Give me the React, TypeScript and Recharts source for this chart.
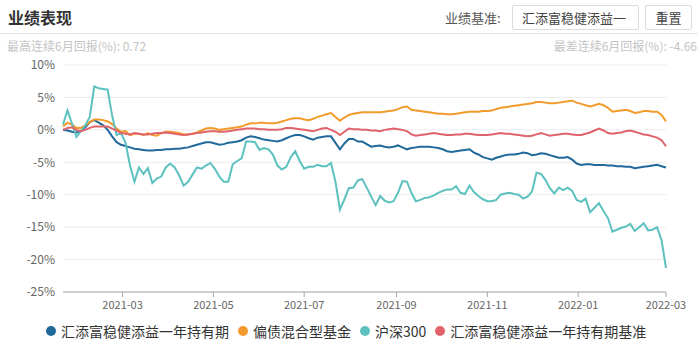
import React from "react";
import { LineChart, Line, XAxis, YAxis, CartesianGrid } from "recharts";

const dates = [
  "2021-01-20","2021-01-23","2021-01-26","2021-01-29","2021-02-01","2021-02-04","2021-02-07","2021-02-10","2021-02-13","2021-02-16",
  "2021-02-19","2021-02-22","2021-02-25","2021-02-28","2021-03-03","2021-03-06","2021-03-09","2021-03-12","2021-03-15","2021-03-18",
  "2021-03-21","2021-03-24","2021-03-27","2021-03-30","2021-04-02","2021-04-05","2021-04-08","2021-04-11","2021-04-14","2021-04-17",
  "2021-04-20","2021-04-23","2021-04-26","2021-04-29","2021-05-02","2021-05-05","2021-05-08","2021-05-11","2021-05-14","2021-05-17",
  "2021-05-20","2021-05-23","2021-05-26","2021-05-29","2021-06-01","2021-06-04","2021-06-07","2021-06-10","2021-06-13","2021-06-16",
  "2021-06-19","2021-06-22","2021-06-25","2021-06-28","2021-07-01","2021-07-04","2021-07-07","2021-07-10","2021-07-13","2021-07-16",
  "2021-07-19","2021-07-22","2021-07-25","2021-07-28","2021-07-31","2021-08-03","2021-08-06","2021-08-09","2021-08-12","2021-08-15",
  "2021-08-18","2021-08-21","2021-08-24","2021-08-27","2021-08-30","2021-09-02","2021-09-05","2021-09-08","2021-09-11","2021-09-14",
  "2021-09-17","2021-09-20","2021-09-23","2021-09-26","2021-09-29","2021-10-02","2021-10-05","2021-10-08","2021-10-11","2021-10-14",
  "2021-10-17","2021-10-20","2021-10-23","2021-10-26","2021-10-29","2021-11-01","2021-11-04","2021-11-07","2021-11-10","2021-11-13",
  "2021-11-16","2021-11-19","2021-11-22","2021-11-25","2021-11-28","2021-12-01","2021-12-04","2021-12-07","2021-12-10","2021-12-13",
  "2021-12-16","2021-12-19","2021-12-22","2021-12-25","2021-12-28","2021-12-31","2022-01-03","2022-01-06","2022-01-09","2022-01-12",
  "2022-01-15","2022-01-18","2022-01-21","2022-01-24","2022-01-27","2022-01-30","2022-02-02","2022-02-05","2022-02-08","2022-02-11",
  "2022-02-14","2022-02-17","2022-02-20","2022-02-23","2022-02-26","2022-03-01",
];

// 汇添富稳健添益一年持有期
const fundReturn = [
  0.0,-0.1,-0.3,-0.4,-0.2,0.4,1.2,1.5,1.1,0.7,
  0.0,-1.0,-1.9,-2.3,-2.5,-2.7,-2.9,-3.0,-3.1,-3.2,
  -3.2,-3.1,-3.1,-3.0,-3.0,-2.9,-2.9,-2.8,-2.7,-2.5,
  -2.3,-2.1,-1.9,-1.9,-2.1,-2.3,-2.2,-2.0,-1.9,-1.8,
  -1.6,-1.2,-1.0,-1.1,-1.3,-1.5,-1.6,-1.7,-1.8,-1.6,
  -1.3,-1.0,-0.8,-0.8,-1.0,-1.3,-1.5,-1.2,-1.1,-1.0,
  -1.0,-2.0,-3.0,-2.1,-1.4,-1.4,-1.8,-1.8,-2.2,-2.6,
  -2.5,-2.4,-2.6,-2.7,-2.6,-2.4,-2.7,-3.0,-2.8,-2.7,
  -2.6,-2.6,-2.6,-2.7,-2.8,-3.0,-3.3,-3.4,-3.3,-3.2,
  -3.1,-3.0,-3.5,-3.8,-4.2,-4.4,-4.6,-4.3,-4.1,-3.9,
  -3.8,-3.8,-3.7,-3.5,-3.6,-3.9,-3.8,-3.6,-3.7,-3.9,
  -4.1,-4.3,-4.3,-4.2,-4.6,-5.2,-5.4,-5.3,-5.3,-5.4,
  -5.4,-5.4,-5.5,-5.5,-5.6,-5.6,-5.7,-5.7,-5.9,-5.8,
  -5.7,-5.6,-5.5,-5.4,-5.6,-5.8,
];

// 偏债混合型基金
const peerReturn = [
  0.5,1.1,0.8,0.3,0.3,0.7,1.2,1.6,1.6,1.5,
  1.3,0.9,0.2,-0.3,-0.2,-0.8,-0.6,-0.6,-0.8,-0.5,
  -0.8,-0.9,-0.5,-0.3,-0.3,-0.4,-0.5,-0.7,-0.7,-0.6,
  -0.4,-0.1,0.2,0.3,0.2,0.0,0.1,0.2,0.3,0.4,
  0.5,0.8,1.0,1.0,1.1,1.1,1.0,1.0,1.1,1.3,
  1.5,1.7,1.8,1.8,1.6,1.5,1.7,2.0,2.2,2.4,
  2.6,2.0,1.4,1.9,2.3,2.5,2.6,2.7,2.7,2.7,
  2.7,2.7,2.8,2.9,3.0,3.2,3.5,3.6,3.1,3.0,
  2.9,2.8,2.7,2.6,2.5,2.5,2.4,2.4,2.5,2.6,
  2.7,2.8,2.8,2.8,2.9,2.9,3.0,3.2,3.4,3.5,
  3.6,3.7,3.8,3.9,4.0,4.1,4.3,4.3,4.2,4.1,
  4.1,4.2,4.3,4.4,4.5,4.2,4.0,3.8,3.6,3.8,
  4.0,3.8,3.4,2.8,2.9,3.0,3.1,2.9,2.6,2.7,
  2.9,2.9,2.8,2.8,2.3,1.3,
];

// 沪深300
const hs300Return = [
  0.8,3.0,1.0,-1.1,-0.2,0.7,2.0,6.7,6.4,6.3,
  6.2,2.2,-0.8,-0.5,-2.0,-5.5,-8.0,-5.8,-6.8,-5.9,
  -8.2,-7.5,-7.2,-5.8,-5.2,-5.8,-7.0,-8.6,-8.0,-6.9,
  -5.8,-6.0,-5.5,-5.1,-6.0,-7.2,-8.0,-8.0,-5.3,-4.8,
  -4.4,-1.8,-1.8,-1.9,-3.1,-2.8,-3.0,-3.8,-5.5,-6.1,
  -5.7,-4.2,-3.3,-4.8,-6.0,-5.7,-5.7,-5.4,-5.6,-5.6,
  -5.1,-8.0,-12.3,-10.7,-9.0,-8.9,-7.8,-7.6,-8.9,-10.3,
  -11.6,-10.2,-10.9,-11.2,-11.0,-9.7,-7.9,-8.0,-9.7,-11.0,
  -10.8,-10.5,-10.4,-10.1,-9.7,-9.4,-9.2,-9.2,-8.7,-9.7,
  -9.9,-8.6,-9.6,-10.2,-10.7,-11.0,-11.0,-10.8,-10.0,-9.8,
  -9.7,-9.9,-10.0,-10.6,-10.3,-9.5,-6.6,-6.8,-7.7,-9.0,
  -9.8,-8.9,-9.3,-8.9,-9.4,-10.8,-11.1,-10.6,-12.7,-12.0,
  -11.3,-12.5,-13.6,-15.7,-15.4,-15.1,-14.9,-14.5,-15.6,-15.0,
  -14.4,-15.5,-15.4,-15.0,-17.0,-21.3,
];

// 汇添富稳健添益一年持有期基准
const benchReturn = [
  0.0,0.3,0.4,0.0,-0.2,0.0,0.3,0.5,0.5,0.5,
  0.5,0.2,-0.1,-0.5,-0.6,-0.7,-0.5,-0.6,-0.7,-0.7,
  -0.6,-0.5,-0.5,-0.4,-0.5,-0.6,-0.7,-0.8,-0.7,-0.6,
  -0.5,-0.4,-0.3,-0.2,-0.2,-0.3,-0.3,-0.2,-0.1,0.0,
  0.1,0.2,0.2,0.2,0.1,0.1,0.0,0.0,0.0,0.1,
  0.3,0.3,0.2,0.1,0.0,-0.1,-0.2,0.0,0.2,0.3,
  0.0,-0.3,-0.8,-0.3,0.2,0.1,0.1,0.0,0.0,-0.1,
  -0.1,-0.2,0.0,0.1,0.2,0.1,0.0,-0.2,-0.7,-0.9,
  -0.8,-0.7,-0.6,-0.5,-0.6,-0.7,-0.8,-0.8,-0.7,-0.7,
  -0.6,-0.6,-0.7,-0.8,-0.8,-0.8,-0.7,-0.6,-0.5,-0.6,
  -0.6,-0.7,-0.8,-0.9,-1.0,-0.9,-0.7,-0.5,-0.7,-0.9,
  -0.8,-0.7,-0.6,-0.6,-0.7,-0.8,-0.8,-0.6,-0.4,-0.1,
  0.2,-0.1,-0.5,-0.6,-0.5,-0.4,-0.2,-0.1,-0.3,-0.5,
  -0.7,-0.8,-1.0,-1.2,-1.6,-2.5,
];

const yTicks = [10, 5, 0, -5, -10, -15, -20, -25];
const xTickLabels = ["2021-03", "2021-05", "2021-07", "2021-09", "2021-11", "2022-01", "2022-03"];

const seriesNames = ["汇添富稳健添益一年持有期", "偏债混合型基金", "沪深300", "汇添富稳健添益一年持有期基准"];
const seriesKeys = ["fund", "peer", "hs300", "bench"];
const seriesColors = ["#21699b", "#f39a2c", "#5cc1bf", "#e0636b"];

const data = dates.map((d, i) => ({
  t: Date.parse(d),
  fund: fundReturn[i],
  peer: peerReturn[i],
  hs300: hs300Return[i],
  bench: benchReturn[i],
}));

const xTicks = xTickLabels.map((l) => Date.parse(l + "-01"));
const tickLabelOf = (v: number) => {
  const idx = xTicks.indexOf(v);
  return idx >= 0 ? xTickLabels[idx] : "";
};

const FONT = '"Noto Sans CJK SC", "Noto Sans", sans-serif';

export default function App() {
  return (
    <div
      style={{
        position: "absolute",
        left: 0,
        top: 0,
        width: 700,
        height: 351,
        background: "#fff",
        fontFamily: FONT,
        overflow: "hidden",
      }}
    >
      <div style={{ position: "absolute", left: 8, top: 6, fontSize: 16, fontWeight: 700, color: "#333", lineHeight: "22px" }}>
        业绩表现
      </div>
      <div style={{ position: "absolute", left: 445, top: 8, fontSize: 13, color: "#555", lineHeight: "20px" }}>
        业绩基准:
      </div>
      <div
        style={{
          position: "absolute",
          left: 512,
          top: 5,
          width: 127,
          height: 25,
          border: "1px solid #dcdcdc",
          borderRadius: 2,
          fontSize: 13,
          color: "#444",
          lineHeight: "23px",
          paddingLeft: 9,
          boxSizing: "border-box",
          overflow: "hidden",
          whiteSpace: "nowrap",
        }}
      >
        汇添富稳健添益一
      </div>
      <div
        style={{
          position: "absolute",
          left: 645,
          top: 5,
          width: 47,
          height: 25,
          border: "1px solid #dcdcdc",
          borderRadius: 2,
          fontSize: 13,
          color: "#444",
          lineHeight: "23px",
          textAlign: "center",
          boxSizing: "border-box",
        }}
      >
        重置
      </div>
      <div style={{ position: "absolute", left: 0, top: 33, width: 698, height: 1, background: "#e3e3e3" }} />
      <div style={{ position: "absolute", left: 7, top: 38, fontSize: 12, color: "#c4c4c4", lineHeight: "16px" }}>
        最高连续6月回报(%): 0.72
      </div>
      <div style={{ position: "absolute", right: 3, top: 38, fontSize: 12, color: "#c4c4c4", lineHeight: "16px" }}>
        最差连续6月回报(%): -4.66
      </div>

      <div style={{ position: "absolute", left: 0, top: 0 }}>
        <LineChart width={700} height={351} data={data} margin={{ top: 65, right: 34, bottom: 29, left: 0 }}>
          <CartesianGrid vertical={false} stroke="#ececec" />
          <XAxis
            dataKey="t"
            type="number"
            scale="time"
            domain={["dataMin", "dataMax"]}
            ticks={xTicks}
            tickFormatter={tickLabelOf}
            axisLine={{ stroke: "#a8a8a8" }}
            tickLine={{ stroke: "#a8a8a8" }}
            tickSize={5}
            tickMargin={4}
            height={30}
            tick={{ fontSize: 11, fill: "#666", fontFamily: FONT }}
            interval={0}
          />
          <YAxis
            type="number"
            domain={[-25, 10]}
            ticks={yTicks}
            tickFormatter={(v: number) => `${v}%`}
            axisLine={false}
            tickLine={false}
            width={63}
            tick={{ fontSize: 12, fill: "#666", fontFamily: FONT }}
            interval={0}
          />
          {seriesKeys.map((k, i) => (
            <Line
              key={k}
              type="linear"
              dataKey={k}
              name={seriesNames[i]}
              stroke={seriesColors[i]}
              strokeWidth={2}
              dot={false}
              isAnimationActive={false}
            />
          ))}
        </LineChart>
      </div>

      <div
        style={{
          position: "absolute",
          left: 46,
          top: 321,
          display: "flex",
          alignItems: "center",
          fontSize: 14,
          color: "#333",
          lineHeight: "20px",
          whiteSpace: "nowrap",
        }}
      >
        {seriesNames.map((n, i) => (
          <div key={n} style={{ display: "flex", alignItems: "center", marginRight: 9 }}>
            <span
              style={{
                display: "inline-block",
                width: 10,
                height: 10,
                borderRadius: 5,
                background: seriesColors[i],
                marginRight: 5,
              }}
            />
            <span>{n}</span>
          </div>
        ))}
      </div>
    </div>
  );
}
